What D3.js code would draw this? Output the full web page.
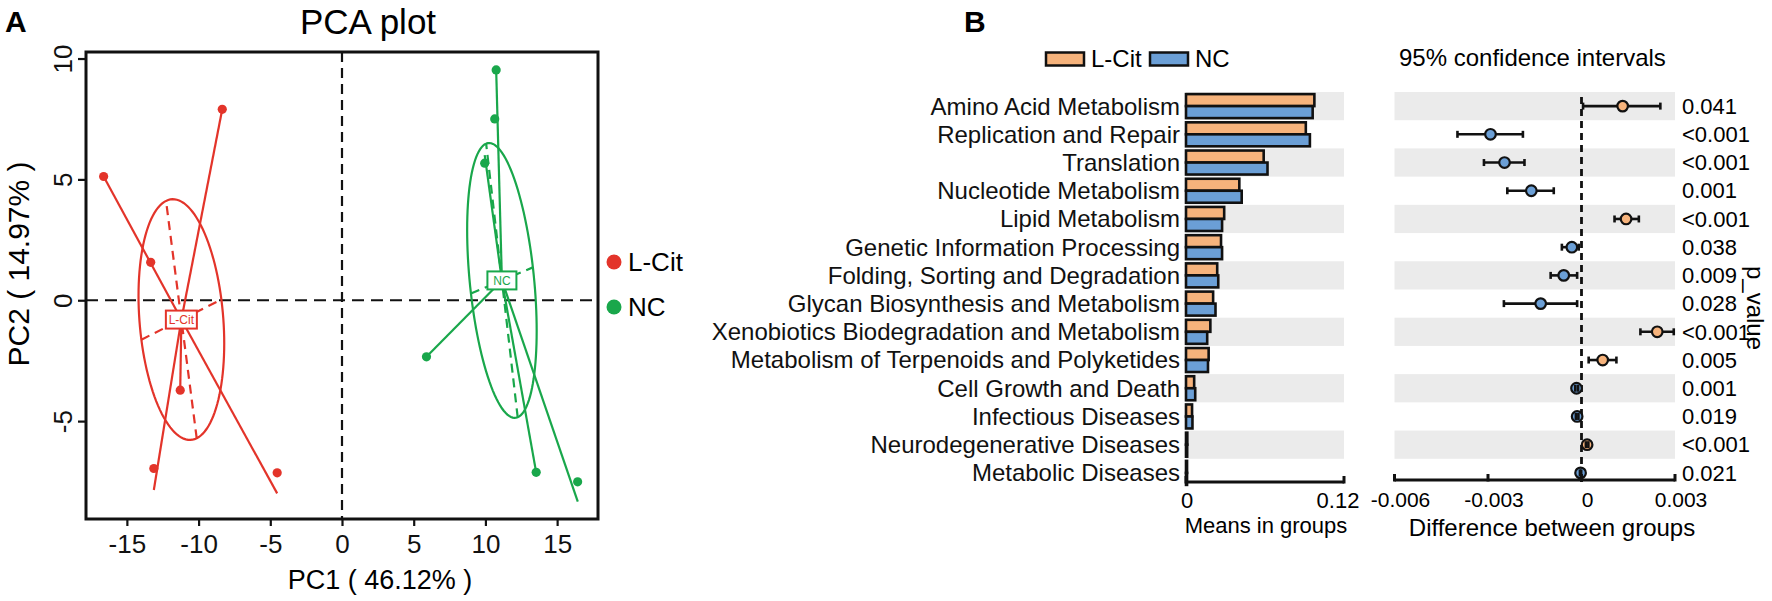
<!DOCTYPE html>
<html>
<head>
<meta charset="utf-8">
<script src="https://cdn.jsdelivr.net/npm/d3@7"></script>
<style>
  html, body { margin: 0; padding: 0; background: #fff; }
  svg { display: block; font-family: "Liberation Sans", Arial, Helvetica, sans-serif; }
</style>
</head>
<body>
<svg id="chart" width="1772" height="601"></svg>
<script>
// ---------------- DATA ----------------
// Panel A: PCA
const pcaGroups = ["L-Cit", "NC"];
const pcaXTicks = [-15, -10, -5, 0, 5, 10, 15];
const pcaYTicks = [-5, 0, 5, 10];
const lcitPC1 = [-16.62, -8.35, -13.34, -11.28, -13.12, -4.52];
const lcitPC2 = [5.12, 7.9, 1.57, -3.72, -6.96, -7.14];
const ncPC1 = [10.75, 10.65, 9.95, 5.89, 13.54, 16.43];
const ncPC2 = [9.53, 7.5, 5.67, -2.34, -7.12, -7.51];
// ends of the star segments drawn from each centroid
const lcitLineEndPC1 = [-16.62, -8.35, -11.28, -13.12, -4.52];
const lcitLineEndPC2 = [5.12, 7.9, -3.72, -7.85, -7.99];
const ncLineEndPC1 = [10.75, 9.95, 5.89, 13.54, 16.44];
const ncLineEndPC2 = [9.53, 6.0, -2.34, -7.12, -8.33];
// centroids and ellipse conjugate half-axes (data units)
const lcitCentroid = [-11.2, -0.8];
const ncCentroid = [11.15, 0.82];
const lcitAxisA = [-1.07, 4.91];
const lcitAxisB = [2.79, 0.83];
const ncAxisA = [-1.10, 5.66];
const ncAxisB = [2.16, 0.54];

// Panel B: STAMP
const categories = [
  "Amino Acid Metabolism", "Replication and Repair", "Translation",
  "Nucleotide Metabolism", "Lipid Metabolism", "Genetic Information Processing",
  "Folding, Sorting and Degradation", "Glycan Biosynthesis and Metabolism",
  "Xenobiotics Biodegradation and Metabolism", "Metabolism of Terpenoids and Polyketides",
  "Cell Growth and Death", "Infectious Diseases", "Neurodegenerative Diseases",
  "Metabolic Diseases"
];
const lcitMeans = [0.0975, 0.0910, 0.0590, 0.0405, 0.0290, 0.0266, 0.0237, 0.0206, 0.0185, 0.0172, 0.0062, 0.0046, 0.0010, 0.0008];
const ncMeans   = [0.0962, 0.0941, 0.0619, 0.0423, 0.0274, 0.0274, 0.0245, 0.0224, 0.0161, 0.0167, 0.0070, 0.0049, 0.0009, 0.0008];
const diffs  = [0.00132, -0.00292, -0.00247, -0.00161, 0.00143, -0.00031, -0.00057, -0.00131, 0.00243, 0.00068, -0.00016, -0.00014, 0.00018, -0.00003];
const ciLow  = [0.00005, -0.00398, -0.00313, -0.00238, 0.00106, -0.00063, -0.00099, -0.00249, 0.00189, 0.00023, -0.00020, -0.00018, 0.00014, -0.00005];
const ciHigh = [0.00253, -0.00188, -0.00183, -0.00089, 0.00184, -0.00009, -0.00014, -0.00014, 0.00296, 0.00112, -0.00011, -0.00010, 0.00022, -0.00001];
const pValues = ["0.041", "<0.001", "<0.001", "0.001", "<0.001", "0.038", "0.009", "0.028", "<0.001", "0.005", "0.001", "0.019", "<0.001", "0.021"];
const meanTicks = [0, 0.12];
const meanTickLabels = ["0", "0.12"];
const diffTicks = [-0.006, -0.003, 0, 0.003];
const diffTickLabels = ["-0.006", "-0.003", "0", "0.003"];

// ---------------- STYLE ----------------
const RED = "#e3342a", GREEN = "#19a74b";
const ORANGE = "#f6b37c", BLUE = "#6b9fd6", BAND = "#ebebeb";

const svg = d3.select("#chart");
svg.append("rect").attr("width", 1772).attr("height", 601).attr("fill", "#fff");

// ================= PANEL A =================
const xP = d3.scaleLinear().domain([-17.85, 17.85]).range([86, 598]);
const yP = d3.scaleLinear().domain([-9.05, 10.27]).range([519, 52]);

svg.append("text").attr("x", 5).attr("y", 32).attr("font-size", 30).attr("font-weight", "bold").text("A");
svg.append("text").attr("x", 368).attr("y", 34).attr("font-size", 35).attr("text-anchor", "middle").text("PCA plot");

// zero dashed lines
const gA = svg.append("g");
gA.append("line").attr("x1", xP(0)).attr("x2", xP(0)).attr("y1", yP.range()[1]).attr("y2", yP.range()[0])
  .attr("stroke", "#111").attr("stroke-width", 2.2).attr("stroke-dasharray", "10,6");
gA.append("line").attr("x1", xP.range()[0]).attr("x2", xP.range()[1]).attr("y1", yP(0)).attr("y2", yP(0))
  .attr("stroke", "#111").attr("stroke-width", 2.2).attr("stroke-dasharray", "12,7");

function drawGroup(px, py, ex, ey, c, A, B, color, label, boxW) {
  const g = gA.append("g");
  // ellipse
  const ts = d3.range(0, 361, 3).map(d => d * Math.PI / 180);
  const ell = ts.map(t => [c[0] + Math.cos(t) * A[0] + Math.sin(t) * B[0], c[1] + Math.cos(t) * A[1] + Math.sin(t) * B[1]]);
  g.append("path").attr("d", d3.line().x(d => xP(d[0])).y(d => yP(d[1]))(ell))
    .attr("fill", "none").attr("stroke", color).attr("stroke-width", 2.2);
  // dashed ellipse axes
  [A, B].forEach(v => {
    g.append("line").attr("x1", xP(c[0] - v[0])).attr("y1", yP(c[1] - v[1]))
      .attr("x2", xP(c[0] + v[0])).attr("y2", yP(c[1] + v[1]))
      .attr("stroke", color).attr("stroke-width", 2.2).attr("stroke-dasharray", "9,6");
  });
  // star segments
  ex.forEach((x, i) => {
    g.append("line").attr("x1", xP(c[0])).attr("y1", yP(c[1])).attr("x2", xP(x)).attr("y2", yP(ey[i]))
      .attr("stroke", color).attr("stroke-width", 2.2);
  });
  // points
  g.selectAll("circle.pt").data(px).join("circle").attr("class", "pt")
    .attr("cx", d => xP(d)).attr("cy", (d, i) => yP(py[i])).attr("r", 4.6).attr("fill", color);
  // label box
  const bx = xP(c[0]), by = yP(c[1]);
  g.append("rect").attr("x", bx - boxW / 2).attr("y", by - 9).attr("width", boxW).attr("height", 18)
    .attr("fill", "#fff").attr("stroke", color).attr("stroke-width", 2);
  g.append("text").attr("x", bx).attr("y", by).attr("dy", "0.36em").attr("text-anchor", "middle")
    .attr("font-size", 12).attr("fill", color).text(label);
}
drawGroup(lcitPC1, lcitPC2, lcitLineEndPC1, lcitLineEndPC2, lcitCentroid, lcitAxisA, lcitAxisB, RED, pcaGroups[0], 31);
drawGroup(ncPC1, ncPC2, ncLineEndPC1, ncLineEndPC2, ncCentroid, ncAxisA, ncAxisB, GREEN, pcaGroups[1], 29);

// frame
svg.append("rect").attr("x", 86).attr("y", 52).attr("width", 512).attr("height", 467)
  .attr("fill", "none").attr("stroke", "#111").attr("stroke-width", 3);

// axes
const axB = svg.append("g").attr("transform", "translate(0,519)")
  .call(d3.axisBottom(xP).tickValues(pcaXTicks).tickSize(7).tickPadding(9).tickFormat(d => String(d)));
axB.select(".domain").remove();
axB.selectAll("line").attr("stroke", "#111").attr("stroke-width", 2.2);
axB.selectAll("text").attr("font-size", 26).attr("fill", "#111").attr("font-family", null);

const axL = svg.append("g").attr("transform", "translate(86,0)")
  .call(d3.axisLeft(yP).tickValues(pcaYTicks).tickSize(8).tickFormat(d => String(d)));
axL.select(".domain").remove();
axL.selectAll("line").attr("stroke", "#111").attr("stroke-width", 2.2);
axL.selectAll("text").attr("font-size", 26).attr("fill", "#111").attr("font-family", null)
  .attr("x", 0).attr("dy", null).attr("text-anchor", "middle")
  .attr("transform", "translate(-14,0) rotate(-90)");

svg.append("text").attr("x", 380).attr("y", 580).attr("dy", "0.35em").attr("text-anchor", "middle")
  .attr("font-size", 27).text("PC1 ( 46.12% )");
svg.append("text").attr("transform", "translate(18,264) rotate(-90)").attr("dy", "0.35em")
  .attr("text-anchor", "middle").attr("font-size", 30).text("PC2 ( 14.97% )");

// legend A
[RED, GREEN].forEach((col, i) => {
  svg.append("circle").attr("cx", 614).attr("cy", 262 + i * 45).attr("r", 7.5).attr("fill", col);
  svg.append("text").attr("x", 628).attr("y", 262 + i * 45).attr("dy", "0.36em").attr("font-size", 26).text(pcaGroups[i]);
});

// ================= PANEL B =================
svg.append("text").attr("x", 964).attr("y", 32).attr("font-size", 30).attr("font-weight", "bold").text("B");

const yB = d3.scaleBand().domain(categories).range([92, 487]);
const step = yB.bandwidth();
const xM = d3.scaleLinear().domain([0, 0.12]).range([1186, 1344]);
const xD = d3.scaleLinear().domain([-0.006, 0.003]).range([1394.5, 1675]);

// bands
const gBand = svg.append("g");
categories.forEach((c, i) => {
  if (i % 2 === 0) {
    gBand.append("rect").attr("x", xM(0)).attr("y", yB(c)).attr("width", xM(0.12) - xM(0)).attr("height", step).attr("fill", BAND);
    gBand.append("rect").attr("x", xD(-0.006)).attr("y", yB(c)).attr("width", xD(0.003) - xD(-0.006)).attr("height", step).attr("fill", BAND);
  }
});

// category labels
svg.append("g").selectAll("text").data(categories).join("text")
  .attr("x", 1180).attr("y", d => yB(d) + step / 2).attr("dy", "0.35em")
  .attr("text-anchor", "end").attr("font-size", 24).attr("fill", "#111").text(d => d);

// bars
const barH = 12;
const gBars = svg.append("g");
gBars.selectAll("rect.l").data(lcitMeans).join("rect").attr("class", "l")
  .attr("x", xM(0)).attr("y", (d, i) => yB(categories[i]) + step / 2 - barH)
  .attr("width", d => xM(d) - xM(0)).attr("height", barH)
  .attr("fill", ORANGE).attr("stroke", "#111").attr("stroke-width", 2.6);
gBars.selectAll("rect.n").data(ncMeans).join("rect").attr("class", "n")
  .attr("x", xM(0)).attr("y", (d, i) => yB(categories[i]) + step / 2)
  .attr("width", d => xM(d) - xM(0)).attr("height", barH)
  .attr("fill", BLUE).attr("stroke", "#111").attr("stroke-width", 2.6);

// means axis
const axisY = 482;
svg.append("line").attr("x1", xM(0)).attr("x2", xM(0.12)).attr("y1", axisY).attr("y2", axisY)
  .attr("stroke", "#111").attr("stroke-width", 3);
meanTicks.forEach((t, i) => {
  svg.append("line").attr("x1", xM(t)).attr("x2", xM(t)).attr("y1", axisY - 6).attr("y2", axisY + 1.5)
    .attr("stroke", "#111").attr("stroke-width", 3);
  svg.append("text").attr("x", xM(t) + (i === 0 ? 1 : -6)).attr("y", 500).attr("dy", "0.35em")
    .attr("text-anchor", "middle").attr("font-size", 22).text(meanTickLabels[i]);
});
svg.append("text").attr("x", 1266).attr("y", 525).attr("dy", "0.35em").attr("text-anchor", "middle")
  .attr("font-size", 22).text("Means in groups");

// legend B
[[ORANGE, "L-Cit", 1046, 1091], [BLUE, "NC", 1150, 1195]].forEach(([col, lab, rx, tx]) => {
  svg.append("rect").attr("x", rx).attr("y", 52.5).attr("width", 38).attr("height", 13)
    .attr("fill", col).attr("stroke", "#111").attr("stroke-width", 2.5);
  svg.append("text").attr("x", tx).attr("y", 59).attr("dy", "0.35em").attr("font-size", 24).text(lab);
});
svg.append("text").attr("x", 1399).attr("y", 58).attr("dy", "0.35em").attr("font-size", 24).text("95% confidence intervals");

// CI panel
svg.append("line").attr("x1", xD(0)).attr("x2", xD(0)).attr("y1", 97).attr("y2", axisY)
  .attr("stroke", "#111").attr("stroke-width", 2.8).attr("stroke-dasharray", "7,5");

const gCI = svg.append("g");
diffs.forEach((d, i) => {
  const cy = yB(categories[i]) + step / 2;
  gCI.append("line").attr("x1", xD(ciLow[i])).attr("x2", xD(ciHigh[i])).attr("y1", cy).attr("y2", cy)
    .attr("stroke", "#111").attr("stroke-width", 2.6);
});
gCI.selectAll("circle").data(diffs).join("circle")
  .attr("cx", d => xD(d)).attr("cy", (d, i) => yB(categories[i]) + step / 2).attr("r", 5.3)
  .attr("fill", d => d > 0 ? ORANGE : BLUE).attr("stroke", "#111").attr("stroke-width", 2.2);
// error-bar caps drawn on top
diffs.forEach((d, i) => {
  const cy = yB(categories[i]) + step / 2;
  [ciLow[i], ciHigh[i]].forEach(v => {
    gCI.append("line").attr("x1", xD(v)).attr("x2", xD(v)).attr("y1", cy - 3.5).attr("y2", cy + 3.5)
      .attr("stroke", "#111").attr("stroke-width", 2.6);
  });
});

// p values
svg.append("g").selectAll("text").data(pValues).join("text")
  .attr("x", 1682).attr("y", (d, i) => yB(categories[i]) + step / 2).attr("dy", "0.35em")
  .attr("font-size", 22).text(d => d);
svg.append("text").attr("transform", "translate(1755,308) rotate(90)").attr("dy", "0.35em")
  .attr("text-anchor", "middle").attr("font-size", 24).text("p_value");

// diff axis
svg.append("line").attr("x1", xD(-0.006)).attr("x2", xD(0.003)).attr("y1", axisY - 2).attr("y2", axisY - 2)
  .attr("stroke", "#111").attr("stroke-width", 3);
diffTicks.forEach((t, i) => {
  svg.append("line").attr("x1", xD(t)).attr("x2", xD(t)).attr("y1", axisY - 8).attr("y2", axisY - 0.5)
    .attr("stroke", "#111").attr("stroke-width", 3);
  svg.append("text").attr("x", xD(t) + 6).attr("y", 500).attr("dy", "0.35em")
    .attr("text-anchor", "middle").attr("font-size", 21).text(diffTickLabels[i]);
});
svg.append("text").attr("x", 1552).attr("y", 528).attr("dy", "0.35em").attr("text-anchor", "middle")
  .attr("font-size", 24).text("Difference between groups");
</script>
</body>
</html>
